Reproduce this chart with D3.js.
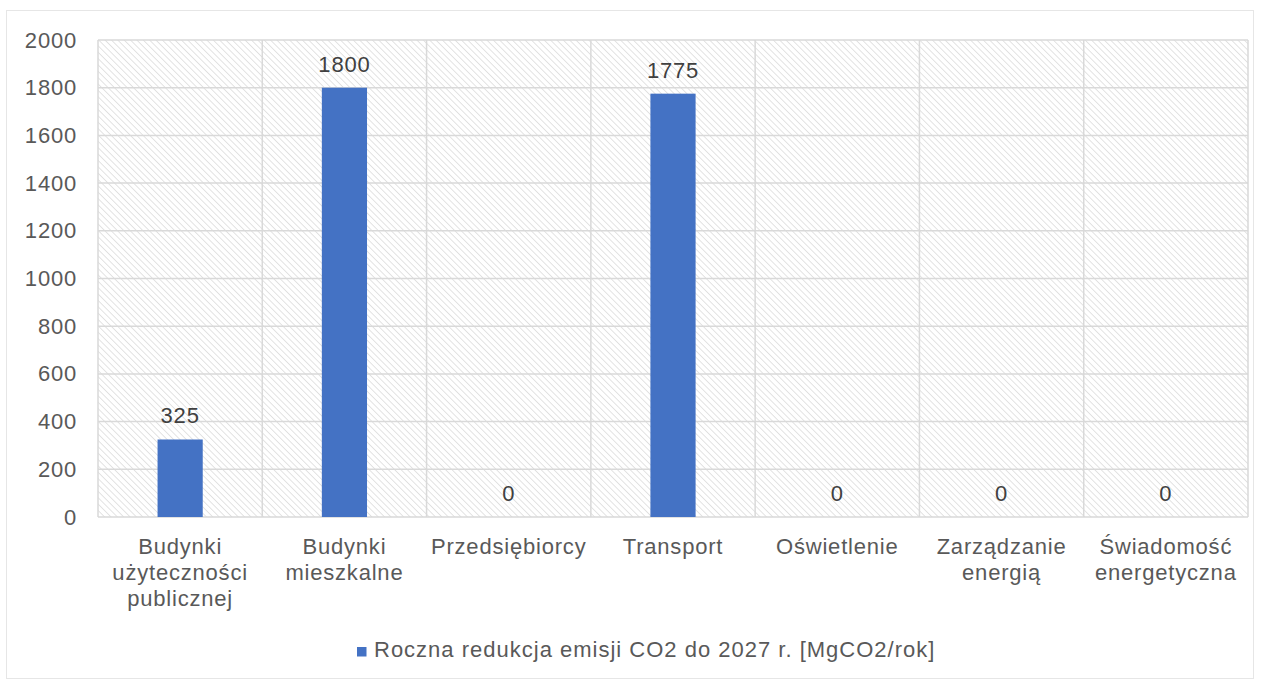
<!DOCTYPE html>
<html><head><meta charset="utf-8">
<script src="https://cdn.jsdelivr.net/npm/d3@7"></script>
<style>body{margin:0;background:#fff}svg{display:block}</style>
</head><body>
<script>
const categories = [["Budynki","użyteczności","publicznej"],["Budynki","mieszkalne"],["Przedsiębiorcy"],["Transport"],["Oświetlenie"],["Zarządzanie","energią"],["Świadomość","energetyczna"]];
const values = [325, 1800, 0, 1775, 0, 0, 0];
const yTicks = [0,200,400,600,800,1000,1200,1400,1600,1800,2000];
const seriesName = "Roczna redukcja emisji CO2 do 2027 r. [MgCO2/rok]";

const W=1266,H=684;
const m={left:98,right:18,top:40,bottom:167};
const svg=d3.select("body").append("svg").attr("width",W).attr("height",H);
const font="Liberation Sans, Arial, sans-serif";
const fs=22, ls=0.8;
const defs=svg.append("defs");
const pat=defs.append("pattern").attr("id","hatch").attr("patternUnits","userSpaceOnUse").attr("width",4.5).attr("height",4.5).attr("patternTransform","rotate(-45)");
pat.append("rect").attr("width",4.5).attr("height",4.5).attr("fill","#fff");
pat.append("line").attr("x1",0).attr("y1",0).attr("x2",0).attr("y2",4.5).attr("stroke","#dcdcdc").attr("stroke-width",1.6);

svg.append("rect").attr("x",6.5).attr("y",10.5).attr("width",1247).attr("height",668).attr("fill","#fff").attr("stroke","#e6e6e6");

const iw=W-m.left-m.right, ih=H-m.top-m.bottom;
const g=svg.append("g").attr("transform",`translate(${m.left},${m.top})`);
const x=d3.scaleBand().domain(d3.range(categories.length)).range([0,iw]).paddingInner(0).paddingOuter(0);
const y=d3.scaleLinear().domain([0,2000]).range([ih,0]);

g.append("rect").attr("width",iw).attr("height",ih).attr("fill","url(#hatch)");
g.selectAll(".hg").data(yTicks).join("line").attr("x1",0).attr("x2",iw).attr("y1",d=>y(d)).attr("y2",d=>y(d)).attr("stroke","#d9d9d9").attr("stroke-width",1.5);
g.selectAll(".vg").data(d3.range(categories.length+1)).join("line").attr("x1",d=>d*x.step()).attr("x2",d=>d*x.step()).attr("y1",0).attr("y2",ih).attr("stroke","#d9d9d9").attr("stroke-width",1.5);

const yAxis=g.append("g").call(d3.axisLeft(y).tickValues(yTicks).tickFormat(d3.format("d")).tickSize(0).tickPadding(21));
yAxis.select(".domain").remove();
yAxis.selectAll("text").attr("font-family",font).attr("font-size",fs).attr("letter-spacing",ls).attr("fill","#595959");

const bw=x.bandwidth()*0.275;
g.selectAll(".bar").data(values).join("rect")
 .attr("x",(d,i)=>x(i)+x.bandwidth()/2-bw/2).attr("width",bw)
 .attr("y",d=>y(d)).attr("height",d=>ih-y(d)).attr("fill","#4472c4");
g.selectAll(".lab").data(values).join("text")
 .attr("x",(d,i)=>x(i)+x.bandwidth()/2).attr("y",d=>y(d)-16)
 .attr("text-anchor","middle").attr("font-family",font).attr("font-size",fs).attr("letter-spacing",ls).attr("fill","#404040").text(d=>d);

const cl=g.selectAll(".cat").data(categories).join("text")
 .attr("text-anchor","middle").attr("font-family",font).attr("font-size",fs).attr("letter-spacing",ls).attr("fill","#595959");
cl.each(function(lines,i){
  d3.select(this).selectAll("tspan").data(lines).join("tspan")
   .attr("x",x(i)+x.bandwidth()/2).attr("y",(d,j)=>ih+37+j*26).text(d=>d);
});

const lg=svg.append("g");
lg.append("rect").attr("x",357).attr("y",647).attr("width",9.5).attr("height",9.5).attr("fill","#4472c4");
lg.append("text").attr("x",374).attr("y",657).attr("font-family",font).attr("font-size",fs).attr("letter-spacing",1).attr("fill","#595959").text(seriesName);
</script>
</body></html>
